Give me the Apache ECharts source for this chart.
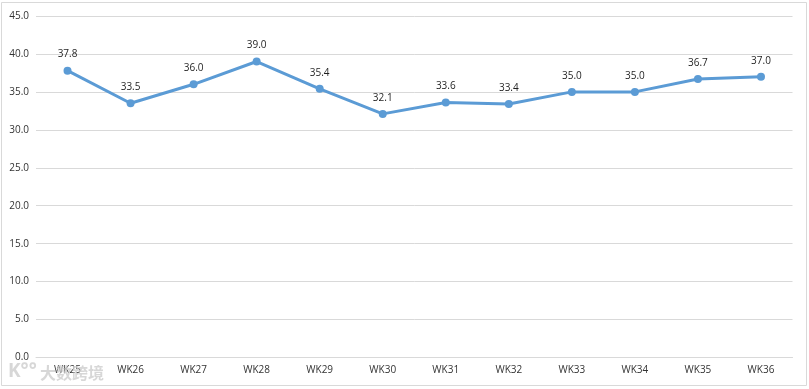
<!DOCTYPE html>
<html><head><meta charset="utf-8">
<style>html,body{margin:0;padding:0;background:#fff}#c{width:809px;height:389px}</style>
<script src="https://cdn.jsdelivr.net/npm/echarts@6/dist/echarts.min.js"></script>
</head><body><div id="c"></div>
<script>
const categories = ['WK25','WK26','WK27','WK28','WK29','WK30','WK31','WK32','WK33','WK34','WK35','WK36'];
const values = [37.8,33.5,36.0,39.0,35.4,32.1,33.6,33.4,35.0,35.0,36.7,37.0];
const font = '"Open Sans","Noto Sans",sans-serif';
const chart = echarts.init(document.getElementById('c'), null, {renderer:'canvas'});
chart.setOption({
  animation:false,
  backgroundColor:'#fff',
  grid:{left:36,right:16.5,top:16,bottom:31.5,containLabel:false},
  xAxis:{type:'category',data:categories,boundaryGap:true,
    axisLine:{lineStyle:{color:'#d9d9d9',width:1}},axisTick:{show:false},
    axisLabel:{color:'#333333',fontSize:10,fontFamily:font,margin:8,interval:0}},
  yAxis:{type:'value',min:0,max:45,interval:5,
    axisLine:{show:false},axisTick:{show:false},
    splitLine:{lineStyle:{color:'#d9d9d9',width:1}},
    axisLabel:{color:'#333333',fontSize:10,fontFamily:font,margin:7,formatter:v=>v.toFixed(1)}},
  series:[{type:'line',data:values,symbol:'circle',symbolSize:8,
    lineStyle:{color:'#5b9bd5',width:3},itemStyle:{color:'#5b9bd5'},
    label:{show:true,position:'top',distance:7,color:'#1f1f1f',fontSize:10,fontFamily:font,formatter:p=>p.value.toFixed(1)}}],
  graphic:[
    {type:'rect',silent:true,shape:{x:1.5,y:2.5,width:805,height:383},style:{fill:'none',stroke:'#d9d9d9',lineWidth:1}},
    {type:'text',silent:true,z:100,left:40,top:365,style:{text:'大数跨境',fill:'rgba(205,205,205,0.8)',font:'bold 16px "Noto Sans CJK SC"'}},
    {type:'text',silent:true,z:100,left:8,top:362,style:{text:'K°°',fill:'rgba(205,205,205,0.8)',font:'bold 19px "Noto Sans"'}}
  ]
});
</script></body></html>
